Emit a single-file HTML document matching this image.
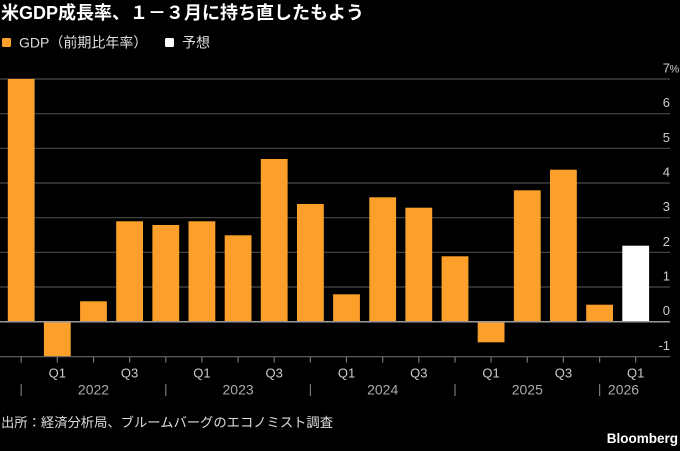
<!DOCTYPE html>
<html><head><meta charset="utf-8"><style>
html,body{margin:0;padding:0;background:#000;}
svg{display:block;}
text{font-family:"Liberation Sans","Noto Sans CJK JP",sans-serif;}
</style></head><body>
<svg width="680" height="451" viewBox="0 0 680 451" xmlns="http://www.w3.org/2000/svg">
<rect width="680" height="451" fill="#000"/>
<text x="1" y="19" font-size="18" font-weight="bold" fill="#fff">米GDP成長率、１－３月に持ち直したもよう</text>
<rect x="2" y="38" width="9" height="9" rx="1.5" fill="#fda02b"/>
<text x="19" y="47.5" font-size="14" fill="#ddd">GDP（前期比年率）</text>
<rect x="165" y="38" width="9" height="9" rx="1.5" fill="#fff"/>
<text x="182" y="47.5" font-size="14" fill="#ddd">予想</text>
<g stroke="#4a4a4a" stroke-width="1.2">
<line x1="0" x2="670" y1="79" y2="79"/>
<line x1="0" x2="670" y1="113.7" y2="113.7"/>
<line x1="0" x2="670" y1="148.3" y2="148.3"/>
<line x1="0" x2="670" y1="183" y2="183"/>
<line x1="0" x2="670" y1="217.7" y2="217.7"/>
<line x1="0" x2="670" y1="252.3" y2="252.3"/>
<line x1="0" x2="670" y1="287" y2="287"/>
</g>
<g fill="#fda02b">
<rect x="7.8" y="79" width="26.8" height="242.7"/>
<rect x="43.9" y="321.7" width="26.8" height="35"/>
<rect x="80.1" y="301.3" width="26.8" height="20.4"/>
<rect x="116.2" y="221.3" width="26.8" height="100.4"/>
<rect x="152.4" y="225" width="26.8" height="96.7"/>
<rect x="188.5" y="221.3" width="26.8" height="100.4"/>
<rect x="224.7" y="235.3" width="26.8" height="86.4"/>
<rect x="260.8" y="159" width="26.8" height="162.7"/>
<rect x="297" y="204" width="26.8" height="117.7"/>
<rect x="333.1" y="294.3" width="26.8" height="27.4"/>
<rect x="369.3" y="197.3" width="26.8" height="124.4"/>
<rect x="405.4" y="207.7" width="26.8" height="114"/>
<rect x="441.6" y="256.3" width="26.8" height="65.4"/>
<rect x="477.7" y="321.7" width="26.8" height="20.6"/>
<rect x="513.9" y="190.3" width="26.8" height="131.4"/>
<rect x="550" y="169.7" width="26.8" height="152"/>
<rect x="586.2" y="304.7" width="26.8" height="17"/>
</g>
<rect x="622.3" y="245.7" width="26.8" height="76" fill="#fff"/>
<line x1="0" x2="670" y1="321.7" y2="321.7" stroke="#9a9a9a" stroke-width="1.5"/>
<line x1="0" x2="670" y1="356.7" y2="356.7" stroke="#666" stroke-width="1.2"/>
<g stroke="#777" stroke-width="1.2">
<line x1="21.2" x2="21.2" y1="357" y2="362.5"/>
<line x1="57.3" x2="57.3" y1="357" y2="362.5"/>
<line x1="93.5" x2="93.5" y1="357" y2="362.5"/>
<line x1="129.6" x2="129.6" y1="357" y2="362.5"/>
<line x1="165.8" x2="165.8" y1="357" y2="362.5"/>
<line x1="201.9" x2="201.9" y1="357" y2="362.5"/>
<line x1="238.1" x2="238.1" y1="357" y2="362.5"/>
<line x1="274.2" x2="274.2" y1="357" y2="362.5"/>
<line x1="310.4" x2="310.4" y1="357" y2="362.5"/>
<line x1="346.5" x2="346.5" y1="357" y2="362.5"/>
<line x1="382.7" x2="382.7" y1="357" y2="362.5"/>
<line x1="418.8" x2="418.8" y1="357" y2="362.5"/>
<line x1="455" x2="455" y1="357" y2="362.5"/>
<line x1="491.1" x2="491.1" y1="357" y2="362.5"/>
<line x1="527.3" x2="527.3" y1="357" y2="362.5"/>
<line x1="563.4" x2="563.4" y1="357" y2="362.5"/>
<line x1="599.6" x2="599.6" y1="357" y2="362.5"/>
<line x1="635.7" x2="635.7" y1="357" y2="362.5"/>
<line x1="21.2" x2="21.2" y1="384" y2="396"/>
<line x1="165.8" x2="165.8" y1="384" y2="396"/>
<line x1="310.4" x2="310.4" y1="384" y2="396"/>
<line x1="455" x2="455" y1="384" y2="396"/>
<line x1="599.6" x2="599.6" y1="384" y2="396"/>
</g>
<g font-size="13" fill="#ccc" text-anchor="middle">
<text x="57.3" y="377.5">Q1</text>
<text x="129.6" y="377.5">Q3</text>
<text x="201.9" y="377.5">Q1</text>
<text x="274.2" y="377.5">Q3</text>
<text x="346.5" y="377.5">Q1</text>
<text x="418.8" y="377.5">Q3</text>
<text x="491.1" y="377.5">Q1</text>
<text x="563.4" y="377.5">Q3</text>
<text x="635.7" y="377.5">Q1</text>
</g>
<g font-size="14" fill="#aaa" text-anchor="middle">
<text x="93.5" y="394.5">2022</text>
<text x="238.1" y="394.5">2023</text>
<text x="382.7" y="394.5">2024</text>
<text x="527.3" y="394.5">2025</text>
<text x="623.5" y="394.5">2026</text>
</g>
<g font-size="13" fill="#ccc" text-anchor="end">
<text x="670" y="72.5">7</text>
<text x="670" y="107.2">6</text>
<text x="670" y="141.8">5</text>
<text x="670" y="176.5">4</text>
<text x="670" y="211.2">3</text>
<text x="670" y="245.8">2</text>
<text x="670" y="280.5">1</text>
<text x="670" y="315.2">0</text>
<text x="670" y="350.2">-1</text>
</g>
<text x="669.5" y="72.5" font-size="11" fill="#ccc">%</text>
<text x="1" y="427" font-size="13.3" fill="#ddd">出所：経済分析局、ブルームバーグのエコノミスト調査</text>
<text x="678" y="443" font-size="13.5" font-weight="bold" fill="#fff" text-anchor="end">Bloomberg</text>
</svg>
</body></html>
